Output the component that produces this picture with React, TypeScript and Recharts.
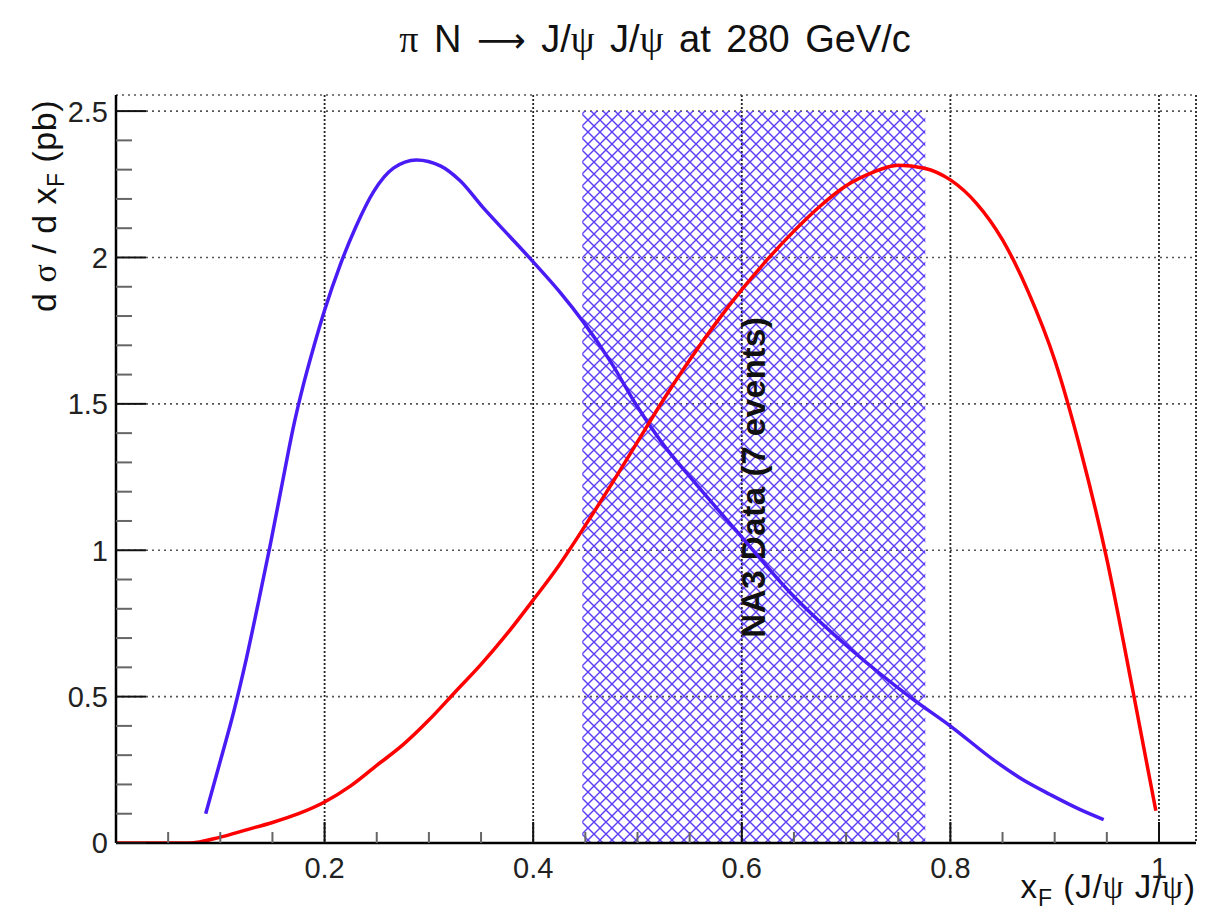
import React from 'react';
import { LineChart, Line, XAxis, YAxis, CartesianGrid, ReferenceArea } from 'recharts';

// ---- data ----
const blueX = [0.086, 0.100, 0.113, 0.125, 0.137, 0.148, 0.160, 0.170, 0.180, 0.190, 0.200, 0.215, 0.230, 0.247, 0.266, 0.288, 0.311, 0.330, 0.352, 0.378, 0.400, 0.426, 0.448, 0.474, 0.500, 0.525, 0.554, 0.600, 0.647, 0.705, 0.763, 0.801, 0.841, 0.870, 0.896, 0.924, 0.947];
const blueY = [0.100, 0.280, 0.450, 0.630, 0.830, 1.020, 1.240, 1.420, 1.570, 1.700, 1.820, 1.975, 2.105, 2.225, 2.305, 2.333, 2.313, 2.262, 2.170, 2.070, 1.985, 1.880, 1.780, 1.645, 1.490, 1.360, 1.235, 1.045, 0.853, 0.660, 0.494, 0.397, 0.285, 0.215, 0.165, 0.115, 0.080];

const redX = [0.0, 0.070, 0.100, 0.125, 0.150, 0.175, 0.200, 0.225, 0.250, 0.275, 0.300, 0.325, 0.350, 0.375, 0.400, 0.425, 0.450, 0.475, 0.500, 0.525, 0.550, 0.575, 0.600, 0.625, 0.650, 0.675, 0.700, 0.725, 0.750, 0.775, 0.800, 0.825, 0.850, 0.875, 0.900, 0.925, 0.950, 0.975, 0.997];
const redY = [0.0, 0.0, 0.020, 0.045, 0.070, 0.100, 0.140, 0.195, 0.265, 0.335, 0.420, 0.515, 0.610, 0.715, 0.830, 0.950, 1.085, 1.225, 1.370, 1.515, 1.650, 1.775, 1.890, 1.995, 2.090, 2.175, 2.245, 2.290, 2.315, 2.305, 2.265, 2.185, 2.060, 1.880, 1.650, 1.340, 0.970, 0.520, 0.110];

const xMajorTicks = [0.2, 0.4, 0.6, 0.8, 1];
const xAllTicks = [0.05, 0.1, 0.15, 0.2, 0.25, 0.3, 0.35, 0.4, 0.45, 0.5, 0.55, 0.6, 0.65, 0.7, 0.75, 0.8, 0.85, 0.9, 0.95, 1];
const yMajorTicks = [0, 0.5, 1, 1.5, 2, 2.5];
const yAllTicks = [0, 0.1, 0.2, 0.3, 0.4, 0.5, 0.6, 0.7, 0.8, 0.9, 1, 1.1, 1.2, 1.3, 1.4, 1.5, 1.6, 1.7, 1.8, 1.9, 2, 2.1, 2.2, 2.3, 2.4, 2.5];

const bandX = [0.447, 0.776];
const bandY = [0, 2.5];
const bandLabel = 'NA3 Data (7 events)';

const X_DOMAIN: [number, number] = [0, 1.0355];
const Y_DOMAIN: [number, number] = [0, 2.555];

const blueData = blueX.map((x, i) => ({ x, y: blueY[i] }));
const redData = redX.map((x, i) => ({ x, y: redY[i] }));

const FONT = '"Liberation Sans", Arial, Helvetica, sans-serif';
const GREEK = '"Liberation Serif", "DejaVu Serif", serif';
const BLUE = '#4a1cf5';
const RED = '#ff0000';
const HATCH = '#5a3cf5';

const isMajorX = (v: number) => xMajorTicks.some((m) => Math.abs(m - v) < 1e-9);
const isMajorY = (v: number) => yMajorTicks.some((m) => Math.abs(m - v) < 1e-9);

const XTick = (props: any) => {
  const { x, y, payload } = props;
  const v = payload.value;
  const major = isMajorX(v);
  return (
    <g>
      <line x1={x} x2={x} y1={y} y2={y - (major ? 21 : 11)} stroke={major ? '#111' : '#666'} strokeWidth={2} />
      {major && (
        <text x={x} y={y + 35} textAnchor="middle" fontSize={29} fill="#222" fontFamily={FONT}>
          {String(v)}
        </text>
      )}
    </g>
  );
};

const YTick = (props: any) => {
  const { x, y, payload } = props;
  const v = payload.value;
  const major = isMajorY(v);
  return (
    <g>
      <line x1={x} x2={x + (major ? 30 : 16)} y1={y} y2={y} stroke={major ? '#111' : '#666'} strokeWidth={2} />
      {major && (
        <text x={x - 8} y={y} dy="0.36em" textAnchor="end" fontSize={29} fill="#222" fontFamily={FONT}>
          {String(v)}
        </text>
      )}
    </g>
  );
};

const renderYLabel = (props: any) => {
  const vb = props.viewBox;
  const x = vb.x + 56;
  const y = vb.y + 5;
  return (
    <text x={x} y={y} transform={`rotate(-90 ${x} ${y})`} textAnchor="end" fontSize={34} fill="#111" fontFamily={FONT} letterSpacing={0.5}>
      d <tspan fontFamily={GREEK}>σ</tspan> / d x<tspan fontSize={23} dy={8}>F</tspan><tspan dy={-8}> (pb)</tspan>
    </text>
  );
};

const renderXLabel = (props: any) => {
  const vb = props.viewBox;
  const x = vb.x + vb.width;
  const y = vb.y + 55;
  return (
    <text x={x} y={y} textAnchor="end" fontSize={33} fill="#111" fontFamily={FONT} letterSpacing={1}>
      x<tspan fontSize={23} dy={8}>F</tspan><tspan dy={-8}> (J/</tspan><tspan fontFamily={GREEK}>ψ</tspan> J/<tspan fontFamily={GREEK}>ψ</tspan>)
    </text>
  );
};

const renderBandLabel = (props: any) => {
  const vb = props.viewBox;
  const cx = vb.x + vb.width / 2;
  const cy = vb.y + vb.height / 2;
  return (
    <text
      x={cx}
      y={cy}
      transform={`rotate(-90 ${cx} ${cy})`}
      textAnchor="middle"
      dominantBaseline="central"
      fontSize={33}
      letterSpacing={0.6}
      fontWeight="bold"
      fill="#111"
      fontFamily={FONT}
    >
      {bandLabel}
    </text>
  );
};

export default function App() {
  return (
    <div style={{ position: 'absolute', left: 0, top: 0, width: 1220, height: 913, background: '#fff' }}>
      <svg width={0} height={0} style={{ position: 'absolute' }}>
        <defs>
          <pattern id="na3hatch" width={12} height={12} patternUnits="userSpaceOnUse">
            <path d="M-1,-1 L13,13 M13,-1 L-1,13" stroke={HATCH} strokeWidth={1.4} fill="none" />
          </pattern>
        </defs>
      </svg>
      <svg width={1220} height={80} style={{ position: 'absolute', left: 0, top: 0 }}>
        <text x={655} y={52} textAnchor="middle" fontSize={38} fill="#111" fontFamily={FONT} wordSpacing={5}>
          <tspan fontFamily={GREEK}>π</tspan> N <tspan fontFamily={'"DejaVu Sans", sans-serif'} fontSize={34}>⟶</tspan> J/<tspan fontFamily={GREEK}>ψ</tspan> J/<tspan fontFamily={GREEK}>ψ</tspan> at 280 GeV/c
        </text>
      </svg>
      <LineChart width={1220} height={913} margin={{ top: 95, right: 24, left: 0, bottom: 0 }} style={{ fontFamily: FONT }}>
        <XAxis xAxisId="grid" type="number" dataKey="x" domain={X_DOMAIN} ticks={xMajorTicks} hide allowDataOverflow />
        <YAxis yAxisId="grid" type="number" domain={Y_DOMAIN} ticks={yMajorTicks} hide allowDataOverflow />
        <CartesianGrid xAxisId="grid" yAxisId="grid" horizontal={false} stroke="#222" strokeDasharray="2 2" strokeWidth={1.8} />
        <CartesianGrid xAxisId="grid" yAxisId="grid" vertical={false} stroke="#555" strokeDasharray="2 4" strokeWidth={1.6} />
        <XAxis
          xAxisId="top"
          orientation="top"
          type="number"
          dataKey="x"
          domain={X_DOMAIN}
          height={0}
          tick={false}
          tickLine={false}
          axisLine={{ stroke: '#333', strokeWidth: 2 }}
          allowDataOverflow
        />
        <YAxis
          yAxisId="right"
          orientation="right"
          type="number"
          domain={Y_DOMAIN}
          width={0}
          tick={false}
          tickLine={false}
          axisLine={{ stroke: '#333', strokeWidth: 2 }}
          allowDataOverflow
        />
        <XAxis
          type="number"
          dataKey="x"
          domain={X_DOMAIN}
          ticks={xAllTicks}
          interval={0}
          tick={(p: any) => <XTick {...p} />}
          tickLine={false}
          tickSize={0}
          tickMargin={0}
          height={70}
          axisLine={{ stroke: '#000', strokeWidth: 2.5 }}
          allowDataOverflow
          label={renderXLabel}
        />
        <YAxis
          type="number"
          domain={Y_DOMAIN}
          ticks={yAllTicks}
          interval={0}
          tick={(p: any) => <YTick {...p} />}
          tickLine={false}
          tickSize={0}
          tickMargin={0}
          width={116}
          axisLine={{ stroke: '#000', strokeWidth: 2.5 }}
          allowDataOverflow
          label={renderYLabel}
        />
        <ReferenceArea
          x1={bandX[0]}
          x2={bandX[1]}
          y1={bandY[0]}
          y2={bandY[1]}
          fill="url(#na3hatch)"
          fillOpacity={1}
          stroke="none"
          ifOverflow="visible"
          label={renderBandLabel}
        />
        <Line data={blueData} dataKey="y" type="monotone" stroke={BLUE} strokeWidth={3.5} dot={false} isAnimationActive={false} />
        <Line data={redData} dataKey="y" type="monotone" stroke={RED} strokeWidth={3.5} dot={false} isAnimationActive={false} />
      </LineChart>
    </div>
  );
}
